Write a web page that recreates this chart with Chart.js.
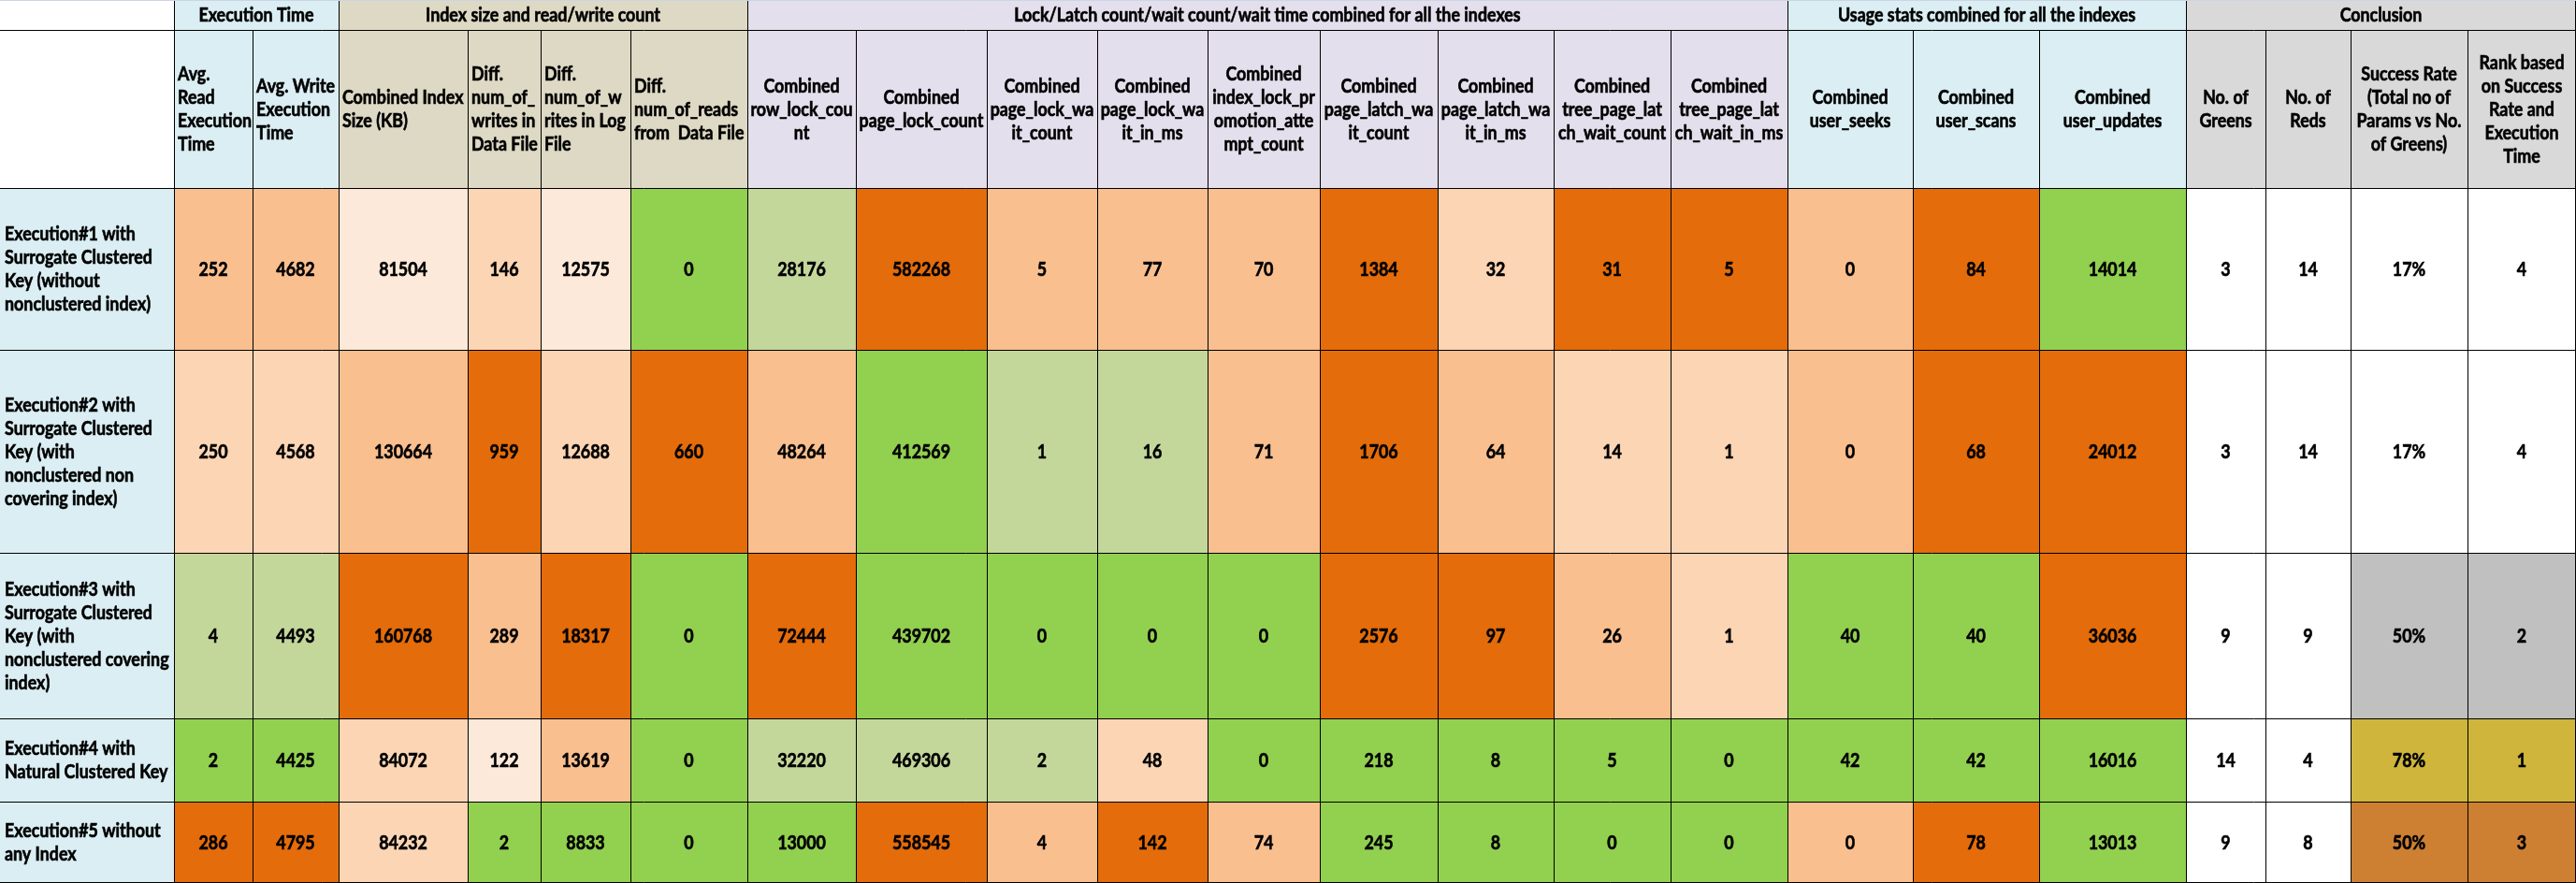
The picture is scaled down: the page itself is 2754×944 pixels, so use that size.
<!DOCTYPE html>
<html>
<head>
<meta charset="utf-8">
<title>Execution comparison</title>
<script src="https://cdn.jsdelivr.net/npm/chart.js@4.4.0/dist/chart.umd.min.js"></script>
<style>
  html, body { margin: 0; padding: 0; background: #fff; overflow: hidden; }
  #wrap { width: 2754px; height: 944px; }
</style>
</head>
<body>
<div id="wrap"><canvas id="tableChart" width="2754" height="944"></canvas></div>
<script>
// row categories (one per execution)
const executions = [
  ['Execution#1 with', 'Surrogate Clustered', 'Key (without', 'nonclustered index)'],
  ['Execution#2 with', 'Surrogate Clustered', 'Key (with', 'nonclustered non', 'covering index)'],
  ['Execution#3 with', 'Surrogate Clustered', 'Key (with', 'nonclustered covering', 'index)'],
  ['Execution#4 with', 'Natural Clustered Key'],
  ['Execution#5 without', 'any Index']
];

const groupTitles = [
  'Execution Time',
  'Index size and read/write count',
  'Lock/Latch count/wait count/wait time combined for all the indexes',
  'Usage stats combined for all the indexes',
  'Conclusion'
];
const groupSizes = [2, 4, 9, 3, 4];

const columnTitles = [
  ['Avg.', 'Read', 'Execution', 'Time'],
  ['Avg. Write', 'Execution', 'Time'],
  ['Combined Index', 'Size (KB)'],
  ['Diff.', 'num_of_', 'writes in', 'Data File'],
  ['Diff.', 'num_of_w', 'rites in Log', 'File'],
  ['Diff.', 'num_of_reads', 'from  Data File'],
  ['Combined', 'row_lock_cou', 'nt'],
  ['Combined', 'page_lock_count'],
  ['Combined', 'page_lock_wa', 'it_count'],
  ['Combined', 'page_lock_wa', 'it_in_ms'],
  ['Combined', 'index_lock_pr', 'omotion_atte', 'mpt_count'],
  ['Combined', 'page_latch_wa', 'it_count'],
  ['Combined', 'page_latch_wa', 'it_in_ms'],
  ['Combined', 'tree_page_lat', 'ch_wait_count'],
  ['Combined', 'tree_page_lat', 'ch_wait_in_ms'],
  ['Combined', 'user_seeks'],
  ['Combined', 'user_scans'],
  ['Combined', 'user_updates'],
  ['No. of', 'Greens'],
  ['No. of', 'Reds'],
  ['Success Rate', '(Total no of', 'Params vs No.', 'of Greens)'],
  ['Rank based', 'on Success', 'Rate and', 'Execution', 'Time']
];

// series values, one array per metric (Execution#1 .. #5)
const avgReadTime = [252, 250, 4, 2, 286];
const avgWriteTime = [4682, 4568, 4493, 4425, 4795];
const indexSizeKB = [81504, 130664, 160768, 84072, 84232];
const diffWritesData = [146, 959, 289, 122, 2];
const diffWritesLog = [12575, 12688, 18317, 13619, 8833];
const diffReadsData = [0, 660, 0, 0, 0];
const rowLockCount = [28176, 48264, 72444, 32220, 13000];
const pageLockCount = [582268, 412569, 439702, 469306, 558545];
const pageLockWaitCount = [5, 1, 0, 2, 4];
const pageLockWaitMs = [77, 16, 0, 48, 142];
const lockPromotionCount = [70, 71, 0, 0, 74];
const pageLatchWaitCount = [1384, 1706, 2576, 218, 245];
const pageLatchWaitMs = [32, 64, 97, 8, 8];
const treeLatchWaitCount = [31, 14, 26, 5, 0];
const treeLatchWaitMs = [5, 1, 1, 0, 0];
const userSeeks = [0, 0, 40, 42, 0];
const userScans = [84, 68, 40, 42, 78];
const userUpdates = [14014, 24012, 36036, 16016, 13013];
const greens = [3, 3, 9, 14, 9];
const reds = [14, 14, 9, 4, 8];
const successRate = [17, 17, 50, 78, 50];
const rank = [4, 4, 2, 1, 3];

const metrics = [avgReadTime, avgWriteTime, indexSizeKB, diffWritesData, diffWritesLog,
  diffReadsData, rowLockCount, pageLockCount, pageLockWaitCount, pageLockWaitMs,
  lockPromotionCount, pageLatchWaitCount, pageLatchWaitMs, treeLatchWaitCount,
  treeLatchWaitMs, userSeeks, userScans, userUpdates, greens, reds, successRate, rank];

// cell shading as in the sheet (one code per metric, per execution)
const shadeRows = [
  'c c a b a G g R c c c R b R R c R G w w w w',
  'b b c R b R c G g g c R c b b c R R w w w w',
  'g g R c R G R G G G G R R c b G G R w w S S',
  'G G b a c G g g g b G G G G G G G G w w A A',
  'R R b G G G G R c R c G G G G c R G w w B B'
];

// styles / layout
const shadeColors = {
  G: '#92D050', g: '#C4D79B', a: '#FDE9D9', b: '#FCD5B4', c: '#FABF8F',
  R: '#E46C0A', w: '#FFFFFF', S: '#C0C0C0', A: '#CFB53B', B: '#CD7F32'
};
const groupColors = ['#DAEEF3', '#DDD9C4', '#E4DFEC', '#DAEEF3', '#D9D9D9'];
const labelColor = '#DAEEF3';
const colWidths = [186, 84, 92, 138, 78, 96, 125, 116, 140, 118, 118, 120, 126, 124, 125, 125, 134, 135, 157, 85, 91, 125, 116];
const rowHeights = [32, 169, 173, 217, 177, 89, 87];
const leftAlignedCols = 6;
const FONT = 'bold 20px Lato, "Open Sans", "Liberation Sans", sans-serif';
const LINE_H = 25;
// width that "Surrogate Clustered" takes in the sheet; text is squeezed to it
const CALIB_TEXT = 'Surrogate Clustered';
const CALIB_WIDTH = 158;

const colEdges = [0];
colWidths.forEach(w => colEdges.push(colEdges[colEdges.length - 1] + w));
const rowEdges = [0];
rowHeights.forEach(h => rowEdges.push(rowEdges[rowEdges.length - 1] + h));

function cellText(v, c) {
  return metrics[c] === successRate ? v + '%' : String(v);
}

const tablePlugin = {
  id: 'sheetTable',
  beforeDraw(chart) {
    const ctx = chart.ctx;
    const sx = chart.scales.x, sy = chart.scales.y;
    const W = chart.width, H = chart.height;
    const px = v => Math.round(sx.getPixelForValue(v));
    const py = v => Math.round(sy.getPixelForValue(v));

    ctx.save();
    ctx.font = FONT;
    const squeeze = Math.min(1, CALIB_WIDTH / ctx.measureText(CALIB_TEXT).width);

    function fillCell(c0, c1, r0, r1, color) {
      ctx.fillStyle = color;
      ctx.fillRect(px(colEdges[c0]), py(rowEdges[r0]),
        px(colEdges[c1]) - px(colEdges[c0]), py(rowEdges[r1]) - py(rowEdges[r0]));
    }
    function lines(textLines, c0, c1, r, align, pad) {
      const x0 = px(colEdges[c0]), x1 = px(colEdges[c1]);
      const yc = (py(rowEdges[r]) + py(rowEdges[r + 1])) / 2;
      ctx.textAlign = align;
      const tx = align === 'left' ? x0 + pad : (x0 + x1) / 2;
      const start = yc - (textLines.length - 1) * LINE_H / 2;
      textLines.forEach((t, i) => {
        ctx.save();
        ctx.translate(tx, start + i * LINE_H + 1);
        ctx.scale(squeeze, 1);
        ctx.fillText(t, 0, 0);
        ctx.strokeText(t, 0, 0);
        ctx.restore();
      });
    }

    ctx.fillStyle = '#fff';
    ctx.fillRect(0, 0, W, H);

    // header row 1: groups
    fillCell(0, 1, 0, 2, '#FFFFFF');
    let c = 1;
    const groupStarts = [];
    groupSizes.forEach((n, g) => {
      groupStarts.push(c);
      fillCell(c, c + n, 0, 1, groupColors[g]);
      for (let k = c; k < c + n; k++) fillCell(k, k + 1, 1, 2, groupColors[g]);
      c += n;
    });

    // body cells
    executions.forEach((_, r) => {
      fillCell(0, 1, r + 2, r + 3, labelColor);
      const codes = shadeRows[r].split(' ');
      metrics.forEach((m, k) => fillCell(k + 1, k + 2, r + 2, r + 3, shadeColors[codes[k]]));
    });

    // grid
    ctx.strokeStyle = '#000';
    ctx.lineWidth = 1;
    ctx.beginPath();
    for (let i = 1; i < rowEdges.length; i++) {
      const y = Math.min(py(rowEdges[i]), H - 1) + 0.5;
      ctx.moveTo(0, y); ctx.lineTo(W, y);
    }
    const fullHeight = new Set([1]);
    groupStarts.forEach(s => fullHeight.add(s));
    for (let i = 1; i < colEdges.length; i++) {
      const x = Math.min(px(colEdges[i]), W - 1) + 0.5;
      const top = fullHeight.has(i) || i === colEdges.length - 1 ? 0 : py(rowEdges[1]);
      ctx.moveTo(x, top); ctx.lineTo(x, H);
    }
    ctx.stroke();
    ctx.strokeStyle = '#CCD5E4';
    ctx.beginPath();
    ctx.moveTo(0, 0.5); ctx.lineTo(W, 0.5);
    ctx.stroke();

    // text (a thin stroke gives it the heavier spreadsheet weight)
    ctx.fillStyle = '#000';
    ctx.strokeStyle = '#000';
    ctx.lineWidth = 0.6;
    ctx.textBaseline = 'middle';
    groupTitles.forEach((t, g) => lines([t], groupStarts[g], groupStarts[g] + groupSizes[g], 0, 'center', 0));
    columnTitles.forEach((t, k) => lines(t, k + 1, k + 2, 1, k < leftAlignedCols ? 'left' : 'center', 4));
    executions.forEach((label, r) => {
      lines(label, 0, 1, r + 2, 'left', 5);
      metrics.forEach((m, k) => lines([cellText(m[r], k)], k + 1, k + 2, r + 2, 'center', 0));
    });
    ctx.restore();
  }
};

new Chart(document.getElementById('tableChart'), {
  type: 'scatter',
  data: { datasets: [] },
  options: {
    responsive: false,
    devicePixelRatio: 1,
    animation: false,
    layout: { padding: 0 },
    plugins: { legend: { display: false }, tooltip: { enabled: false } },
    scales: {
      x: { type: 'linear', display: false, min: 0, max: colEdges[colEdges.length - 1] },
      y: { type: 'linear', display: false, reverse: true, min: 0, max: rowEdges[rowEdges.length - 1] }
    }
  },
  plugins: [tablePlugin]
});
</script>
</body>
</html>
